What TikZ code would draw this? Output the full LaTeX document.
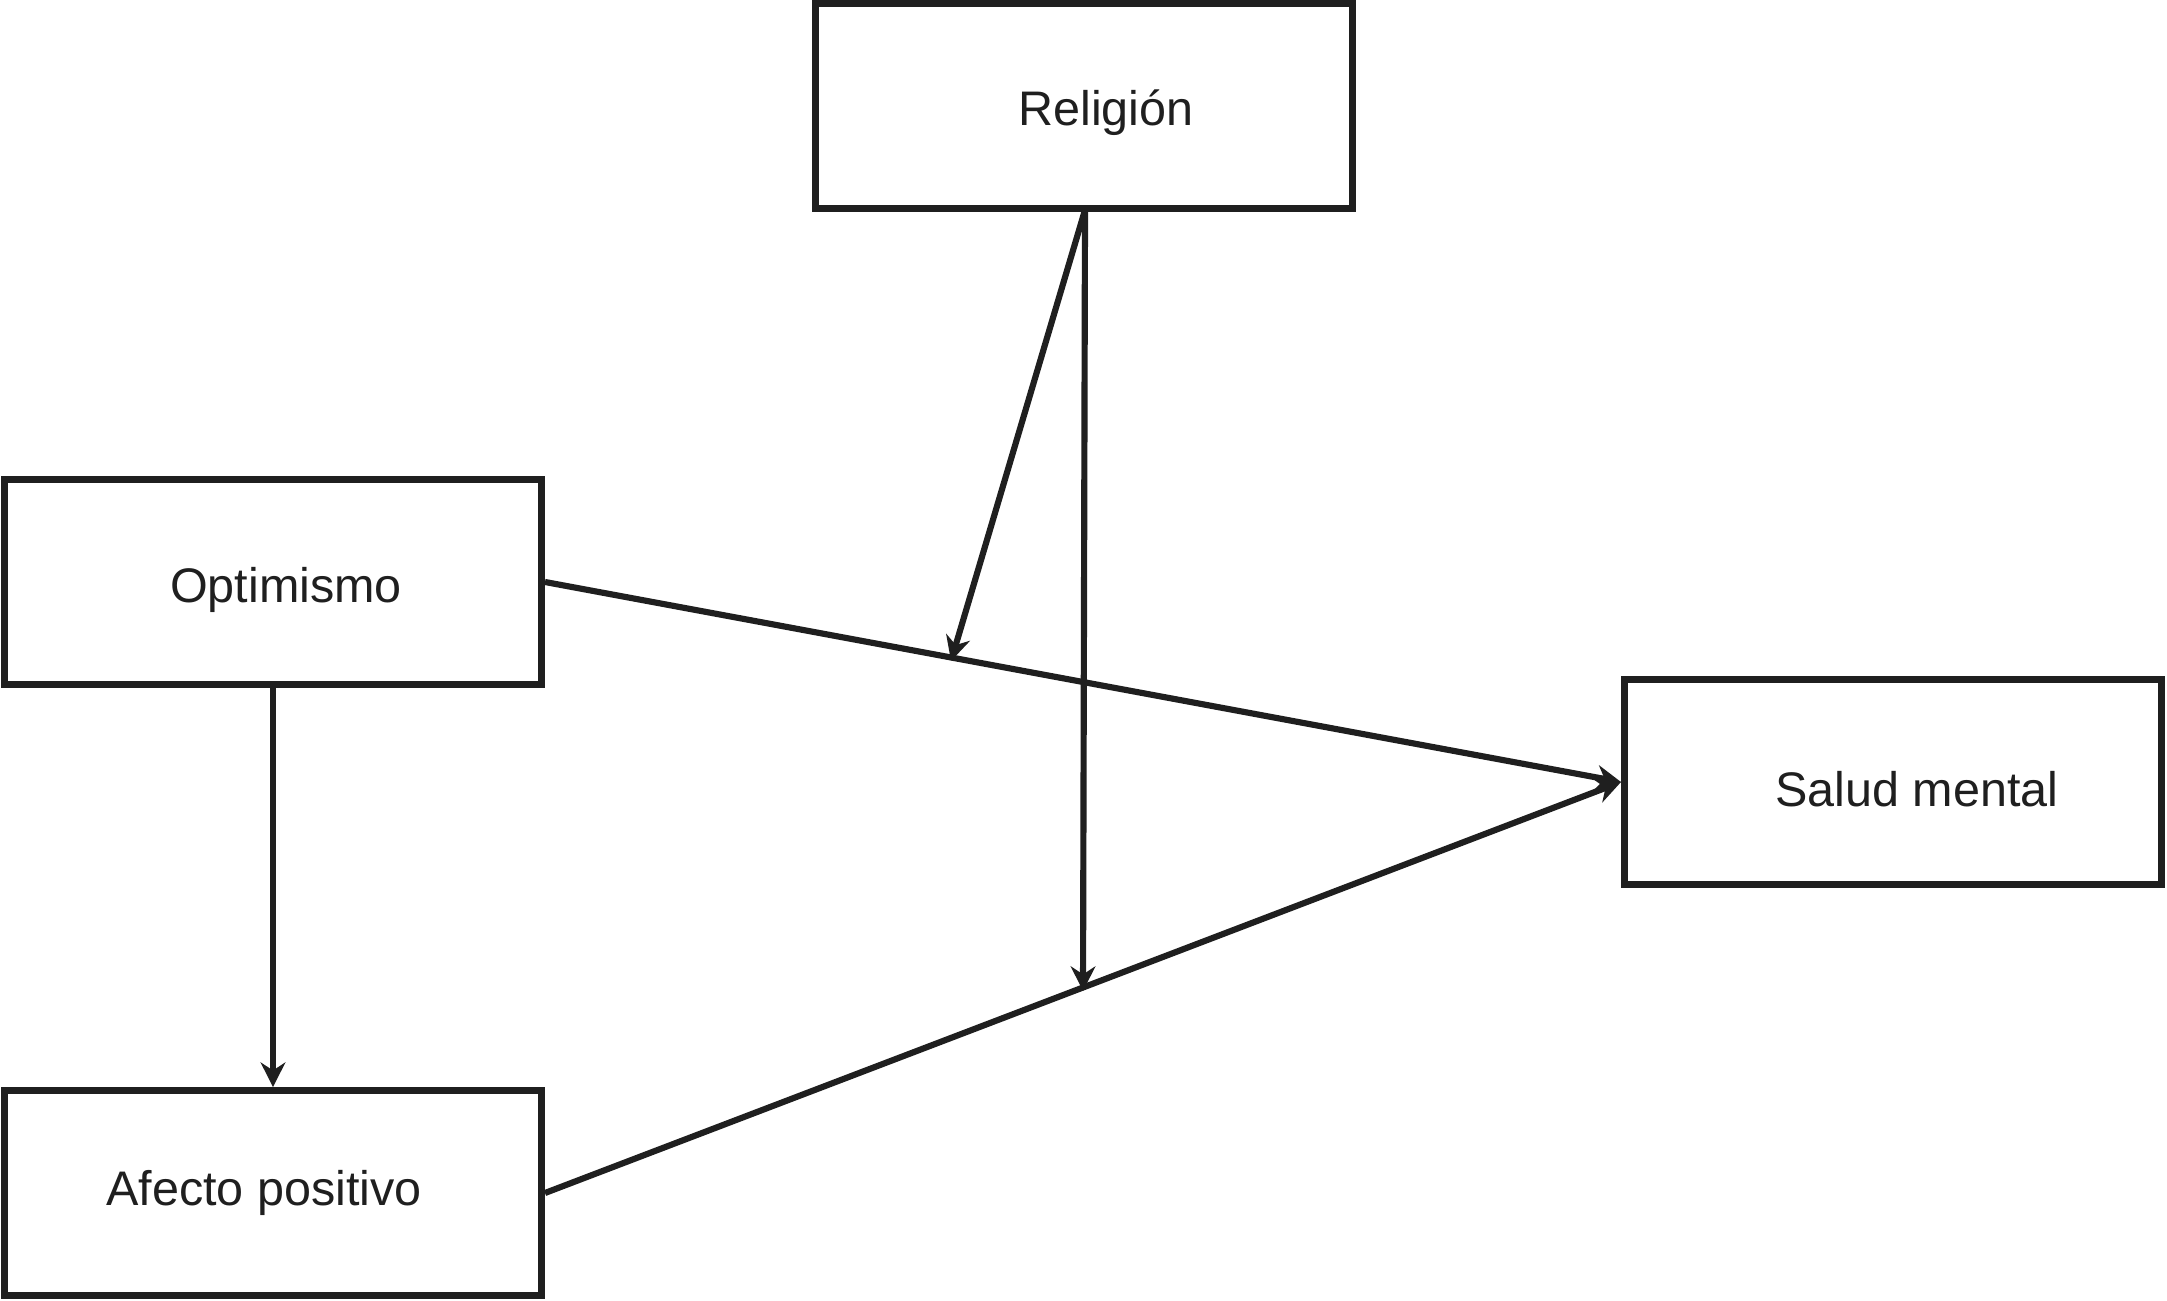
\documentclass[tikz,border=0pt]{standalone}
\usepackage{fontspec}
\setmainfont{Liberation Sans}
\usetikzlibrary{arrows.meta}
\begin{document}
\begin{tikzpicture}[x=0.01cm,y=-0.01cm,
  box/.style={draw=black!88, line width=1.9pt, minimum width=5.37cm, minimum height=2.05cm, inner sep=0pt},
  lbl/.style={font=\fontsize{13.8pt}{16pt}\selectfont, text=black!88, inner sep=0pt},
  conn/.style={line width=1.75pt, draw=black!88, -{Stealth[length=7pt,width=7pt]}}]
\useasboundingbox (0,0) rectangle (2167,1301);
\node[box] (r) at (1084,106) {};
\node[box] (o) at (273,582) {};
\node[box] (a) at (273,1193) {};
\node[box] (s) at (1893,782) {};
\node[lbl] (rt) at (1106,113) {Religión};
\node[lbl] (ot) at (286,590) {Optimismo};
\node[lbl] (at) at (264,1193) {Afecto positivo};
\node[lbl] (st) at (1917,789) {Salud mental};
\coordinate (rb) at (1085,210);
\coordinate (m1) at (951,661);
\coordinate (m2) at (1083,991);
\draw[conn] (o.east) -- (s.west);
\draw[conn] (a.east) -- (s.west);
\draw[conn] (o.south) -- (a.north);
\draw[conn] (rb) -- (m1);
\draw[conn] (rb) -- (m2);
\end{tikzpicture}
\end{document}
